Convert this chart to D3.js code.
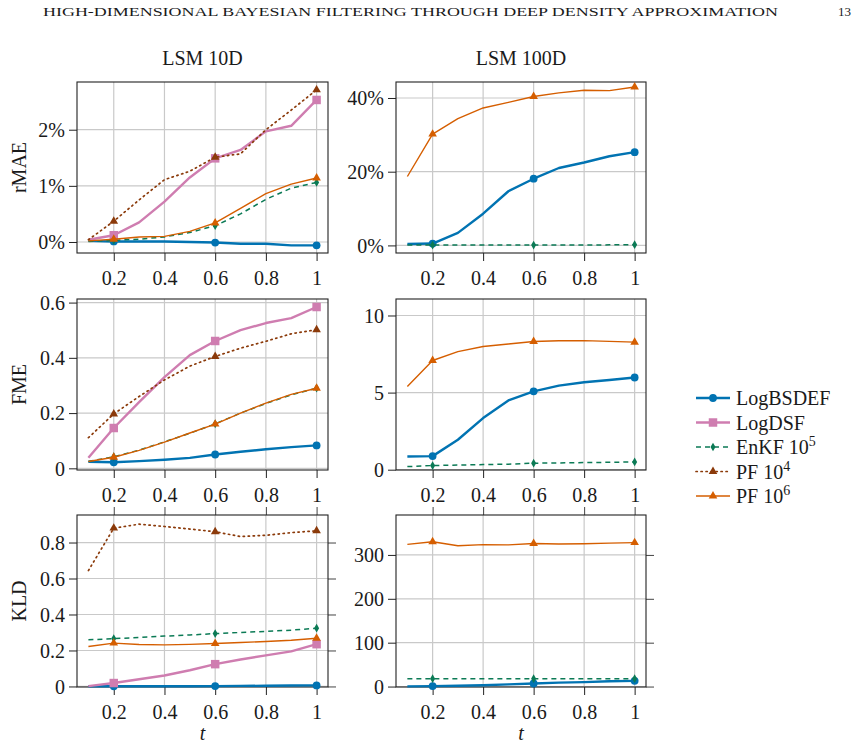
<!DOCTYPE html>
<html>
<head>
<meta charset="utf-8">
<script src="https://cdn.jsdelivr.net/npm/d3@7"></script>
<style>
  body { margin: 0; background: #fff; }
  text { font-family: 'Liberation Serif', 'DejaVu Serif', serif; fill: #1a1a1a; }
</style>
</head>
<body>
<div id="plot_area"></div>
<script>
// page size
const w = 857;
const h = 748;

// shared x values and ticks
const tValues = [0.1, 0.2, 0.3, 0.4, 0.5, 0.6, 0.7, 0.8, 0.9, 1.0];
const xTicks = [0.2, 0.4, 0.6, 0.8, 1];
const markIdx = [1, 5, 9];

// rMAE (percent)
const rmae10_logbsdef = [0.02, 0.01, 0.01, 0.01, 0.0, -0.01, -0.03, -0.03, -0.06, -0.06];
const rmae10_logdsf   = [0.04, 0.12, 0.35, 0.72, 1.15, 1.49, 1.64, 1.97, 2.07, 2.53];
const rmae10_enkf     = [0.01, 0.03, 0.05, 0.09, 0.17, 0.29, 0.5, 0.76, 0.96, 1.06];
const rmae10_pf4      = [0.04, 0.37, 0.75, 1.11, 1.26, 1.51, 1.57, 2.0, 2.35, 2.71];
const rmae10_pf6      = [0.02, 0.05, 0.09, 0.1, 0.19, 0.34, 0.6, 0.86, 1.03, 1.14];

const rmae100_logbsdef = [0.4, 0.5, 3.4, 8.6, 14.7, 18.1, 21.0, 22.5, 24.2, 25.3];
const rmae100_enkf     = [0.1, 0.1, 0.1, 0.1, 0.1, 0.1, 0.1, 0.1, 0.15, 0.2];
const rmae100_pf6      = [18.7, 30.2, 34.4, 37.3, 38.8, 40.4, 41.4, 42.1, 42.0, 43.0];

// FME
const fme10_logbsdef = [0.024, 0.022, 0.026, 0.031, 0.038, 0.05, 0.06, 0.069, 0.077, 0.083];
const fme10_logdsf   = [0.038, 0.146, 0.24, 0.33, 0.41, 0.461, 0.5, 0.526, 0.544, 0.584];
const fme10_enkf     = [0.025, 0.042, 0.066, 0.096, 0.127, 0.161, 0.2, 0.235, 0.266, 0.29];
const fme10_pf4      = [0.111, 0.197, 0.26, 0.32, 0.37, 0.405, 0.435, 0.46, 0.487, 0.502];
const fme10_pf6      = [0.025, 0.04, 0.065, 0.095, 0.128, 0.16, 0.2, 0.236, 0.268, 0.29];

const fme100_logbsdef = [0.86, 0.88, 1.94, 3.35, 4.49, 5.08, 5.45, 5.67, 5.82, 5.98];
const fme100_enkf     = [0.2, 0.27, 0.3, 0.33, 0.36, 0.42, 0.44, 0.46, 0.48, 0.5];
const fme100_pf6      = [5.39, 7.08, 7.66, 7.99, 8.15, 8.31, 8.36, 8.37, 8.32, 8.27];

// KLD
const kld10_logbsdef = [0.001, 0.001, 0.001, 0.001, 0.001, 0.002, 0.003, 0.004, 0.005, 0.006];
const kld10_logdsf   = [0.002, 0.019, 0.04, 0.061, 0.09, 0.124, 0.15, 0.173, 0.195, 0.235];
const kld10_enkf     = [0.259, 0.266, 0.272, 0.28, 0.286, 0.294, 0.3, 0.306, 0.313, 0.324];
const kld10_pf4      = [0.644, 0.88, 0.902, 0.889, 0.875, 0.86, 0.833, 0.84, 0.855, 0.865];
const kld10_pf6      = [0.222, 0.241, 0.233, 0.231, 0.234, 0.239, 0.244, 0.25, 0.257, 0.268];

const kld100_logbsdef = [0.5, 1, 2, 3, 5, 7, 9, 10, 12, 13];
const kld100_enkf     = [18, 18, 18, 18, 18, 18, 18, 18, 18, 18];
const kld100_pf6      = [324, 330, 321, 323.5, 323, 326, 325, 325.5, 327, 328];

// y ticks per panel
const yTicks_rmae10 = [0, 1, 2];
const yTicks_rmae100 = [0, 20, 40];
const yTicks_fme10 = [0, 0.2, 0.4, 0.6];
const yTicks_fme100 = [0, 5, 10];
const yTicks_kld10 = [0, 0.2, 0.4, 0.6, 0.8];
const yTicks_kld100 = [0, 100, 200, 300];

const colTitles = ['LSM 10D', 'LSM 100D'];
const rowLabels = ['rMAE', 'FME', 'KLD'];

// series styles
const styles = {
  logbsdef: {name: 'LogBSDEF', color: '#0173b2', width: 2.4, dash: null, symbol: d3.symbolCircle, size: 48},
  logdsf:   {name: 'LogDSF', color: '#cf7db0', width: 2.4, dash: null, symbol: d3.symbolSquare, size: 72},
  enkf:     {name: 'EnKF', sup: '5', color: '#0b7a55', width: 1.5, dash: '5,4', symbol: d3.symbolDiamond, size: 22},
  pf4:      {name: 'PF', sup: '4', color: '#8b3a0a', width: 1.7, dash: '1.3,3.7', symbol: d3.symbolTriangle, size: 32},
  pf6:      {name: 'PF', sup: '6', color: '#d55e00', width: 1.4, dash: null, symbol: d3.symbolTriangle, size: 32}
};
const drawOrder = ['logbsdef', 'logdsf', 'enkf', 'pf4', 'pf6'];

// frame positions
const colX = [[77, 328], [396, 646]];
const rowY = [[82, 253], [299, 470], [515, 687]];

const pct = (d) => d + '%';
const num = (d) => String(d);

const panels = [
  {row: 0, col: 0, yDomain: [-0.196, 2.85], yTicks: yTicks_rmae10, fmt: pct,
   data: {logbsdef: rmae10_logbsdef, logdsf: rmae10_logdsf, enkf: rmae10_enkf, pf4: rmae10_pf4, pf6: rmae10_pf6}},
  {row: 0, col: 1, yDomain: [-2.06, 44.34], yTicks: yTicks_rmae100, fmt: pct,
   data: {logbsdef: rmae100_logbsdef, enkf: rmae100_enkf, pf6: rmae100_pf6}},
  {row: 1, col: 0, yDomain: [-0.006, 0.613], yTicks: yTicks_fme10, fmt: num,
   data: {logbsdef: fme10_logbsdef, logdsf: fme10_logdsf, enkf: fme10_enkf, pf4: fme10_pf4, pf6: fme10_pf6}},
  {row: 1, col: 1, yDomain: [-0.02, 11.07], yTicks: yTicks_fme100, fmt: num,
   data: {logbsdef: fme100_logbsdef, enkf: fme100_enkf, pf6: fme100_pf6}},
  {row: 2, col: 0, yDomain: [-0.003, 0.953], yTicks: yTicks_kld10, fmt: num,
   data: {logbsdef: kld10_logbsdef, logdsf: kld10_logdsf, enkf: kld10_enkf, pf4: kld10_pf4, pf6: kld10_pf6}},
  {row: 2, col: 1, yDomain: [-1, 391], yTicks: yTicks_kld100, fmt: num,
   data: {logbsdef: kld100_logbsdef, enkf: kld100_enkf, pf6: kld100_pf6}}
];

const svg = d3.select('#plot_area')
              .append('svg')
              .attr('width', w)
              .attr('height', h);

// running header
svg.append('text')
   .attr('x', 43)
   .attr('y', 16)
   .attr('textLength', 735)
   .attr('lengthAdjust', 'spacingAndGlyphs')
   .style('font-size', '12.5px')
   .text('HIGH-DIMENSIONAL BAYESIAN FILTERING THROUGH DEEP DENSITY APPROXIMATION');

svg.append('text')
   .attr('x', 851)
   .attr('y', 16)
   .attr('text-anchor', 'end')
   .style('font-size', '13px')
   .text('13');

panels.forEach(function (p) {
  const [x0, x1] = colX[p.col];
  const [y0, y1] = rowY[p.row];

  const xScale = d3.scaleLinear()
                   .domain([0.055, 1.045])
                   .range([x0, x1]);

  const yScale = d3.scaleLinear()
                   .domain(p.yDomain)
                   .range([y1, y0]);

  const g = svg.append('g');

  // grid
  g.selectAll('.vgrid')
   .data(xTicks)
   .enter()
   .append('line')
   .attr('x1', (d) => xScale(d))
   .attr('x2', (d) => xScale(d))
   .attr('y1', y0)
   .attr('y2', y1)
   .attr('stroke', '#c9c9c9')
   .attr('stroke-width', 1.2);

  g.selectAll('.hgrid')
   .data(p.yTicks)
   .enter()
   .append('line')
   .attr('x1', x0)
   .attr('x2', x1)
   .attr('y1', (d) => yScale(d))
   .attr('y2', (d) => yScale(d))
   .attr('stroke', '#c9c9c9')
   .attr('stroke-width', 1.2);

  // axes with outward ticks
  const xAxis = g.append('g')
     .attr('transform', 'translate(0,' + y1 + ')')
     .call(d3.axisBottom(xScale).tickValues(xTicks).tickSize(8).tickPadding(5).tickFormat(num));

  const yAxis = g.append('g')
     .attr('transform', 'translate(' + x0 + ',0)')
     .call(d3.axisLeft(yScale).tickValues(p.yTicks).tickSize(8).tickPadding(4).tickFormat(p.fmt));

  [xAxis, yAxis].forEach(function (a) {
    a.select('.domain').remove();
    a.selectAll('line').attr('stroke', '#222');
    a.selectAll('text')
     .style('font-family', "'Liberation Serif', 'DejaVu Serif', serif")
     .style('font-size', '20px')
     .attr('fill', '#1a1a1a');
  });
  xAxis.selectAll('text').attr('dy', '0.95em');
  yAxis.selectAll('text').attr('dy', '0.34em');

  // bottom row also has ticks on top and right
  if (p.row === 2) {
    g.append('g')
     .attr('transform', 'translate(0,' + y0 + ')')
     .call(d3.axisTop(xScale).tickValues(xTicks).tickSize(8).tickFormat(''))
     .call((a) => a.select('.domain').remove())
     .selectAll('line').attr('stroke', '#444');
    g.append('g')
     .attr('transform', 'translate(' + x1 + ',0)')
     .call(d3.axisRight(yScale).tickValues(p.yTicks).tickSize(8).tickFormat(''))
     .call((a) => a.select('.domain').remove())
     .selectAll('line').attr('stroke', '#444');
  }

  // frame
  g.append('rect')
   .attr('x', x0)
   .attr('y', y0)
   .attr('width', x1 - x0)
   .attr('height', y1 - y0)
   .attr('fill', 'none')
   .attr('stroke', '#222')
   .attr('stroke-width', 1.1);

  // series
  drawOrder.forEach(function (key) {
    const vals = p.data[key];
    if (!vals) return;
    const s = styles[key];
    const pts = tValues.map((t, i) => [t, vals[i]]);

    g.append('path')
     .datum(pts)
     .attr('fill', 'none')
     .attr('stroke', s.color)
     .attr('stroke-width', s.width)
     .attr('stroke-dasharray', s.dash)
     .attr('stroke-linecap', key === 'pf4' ? 'round' : 'butt')
     .attr('stroke-linejoin', 'round')
     .attr('d', d3.line()
                  .x((d) => xScale(d[0]))
                  .y((d) => yScale(d[1])));

    g.selectAll('.mk_' + key)
     .data(markIdx.map((i) => pts[i]))
     .enter()
     .append('path')
     .attr('transform', (d) => 'translate(' + xScale(d[0]) + ',' + yScale(d[1]) + ')')
     .attr('d', d3.symbol().type(s.symbol).size(s.size))
     .attr('fill', s.color);
  });

  // column titles
  if (p.row === 0) {
    svg.append('text')
       .attr('x', (x0 + x1) / 2)
       .attr('y', 65)
       .attr('text-anchor', 'middle')
       .style('font-size', '20px')
       .text(colTitles[p.col]);
  }

  // row labels
  if (p.col === 0) {
    svg.append('text')
       .attr('text-anchor', 'middle')
       .attr('transform', 'translate(26,' + (y0 + y1) / 2 + ')rotate(-90)')
       .style('font-size', '20px')
       .text(rowLabels[p.row]);
  }

  // x label
  if (p.row === 2) {
    svg.append('text')
       .attr('x', (x0 + x1) / 2)
       .attr('y', 740)
       .attr('text-anchor', 'middle')
       .style('font-size', '20px')
       .style('font-style', 'italic')
       .text('t');
  }
});

// legend
const legendY = [398, 422.5, 447, 471.5, 496];
const legend = svg.append('g');
drawOrder.forEach(function (key, i) {
  const s = styles[key];
  const y = legendY[i];
  legend.append('line')
        .attr('x1', 696)
        .attr('x2', 730)
        .attr('y1', y)
        .attr('y2', y)
        .attr('stroke', s.color)
        .attr('stroke-width', s.width)
        .attr('stroke-linecap', key === 'pf4' ? 'round' : 'butt')
        .attr('stroke-dasharray', s.dash);
  legend.append('path')
        .attr('transform', 'translate(713,' + y + ')')
        .attr('d', d3.symbol().type(s.symbol).size(s.size))
        .attr('fill', s.color);
  const txt = legend.append('text')
        .attr('x', 736)
        .attr('y', y + 7)
        .style('font-size', '20px')
        .text(s.name);
  if (s.sup) {
    txt.append('tspan').text(' 10');
    txt.append('tspan')
       .attr('dy', -8)
       .style('font-size', '14px')
       .text(s.sup);
  }
});
</script>
</body>
</html>
